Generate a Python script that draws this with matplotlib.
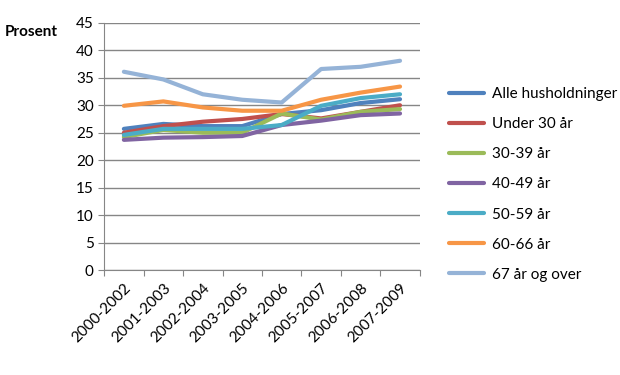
import numpy as np
import matplotlib.pyplot as plt

plt.rcParams['font.family'] = ['Lato', 'DejaVu Sans']

periods = ['2000-2002', '2001-2003', '2002-2004', '2003-2005',
           '2004-2006', '2005-2007', '2006-2008', '2007-2009']

alle = [25.7, 26.6, 26.2, 26.2, 28.4, 29.1, 30.4, 31.1]
under30 = [25.0, 26.2, 27.0, 27.5, 28.4, 27.6, 28.8, 30.0]
aar30_39 = [24.2, 25.5, 25.0, 25.0, 28.5, 27.4, 28.8, 29.3]
aar40_49 = [23.7, 24.1, 24.2, 24.4, 26.4, 27.2, 28.2, 28.5]
aar50_59 = [24.6, 25.7, 25.7, 25.7, 26.4, 29.9, 31.3, 32.0]
aar60_66 = [29.9, 30.7, 29.6, 29.0, 29.0, 31.0, 32.3, 33.4]
aar67 = [36.1, 34.7, 32.0, 31.0, 30.5, 36.6, 37.0, 38.1]

labels = ['Alle husholdninger', 'Under 30 år', '30-39 år', '40-49 år',
          '50-59 år', '60-66 år', '67 år og over']
colors = ['#4F81BD', '#C0504D', '#9BBB59', '#8064A2', '#4BACC6', '#F79646', '#95B3D7']
series = [alle, under30, aar30_39, aar40_49, aar50_59, aar60_66, aar67]

fig = plt.figure(figsize=(6.2, 3.75), dpi=100)
ax = fig.add_axes([0.168, 0.28, 0.509, 0.659])

x = np.arange(len(periods))
for vals, lab, col in zip(series, labels, colors):
    ax.plot(x, vals, color=col, lw=3, label=lab, solid_capstyle='round')

ax.set_xlim(-0.5, len(periods) - 0.5)
ax.set_ylim(0, 45)
ax.set_yticks(range(0, 46, 5))
ax.yaxis.grid(True, color='#868686', lw=1)
ax.set_axisbelow(True)
ax.set_xticks(np.arange(-0.5, len(periods), 1))
ax.set_xticklabels([])
ax.set_xticks(x, minor=True)
ax.set_xticklabels(periods, minor=True, rotation=45, ha='right', va='top',
                   rotation_mode='anchor', fontsize=11)
ax.tick_params(axis='x', which='minor', length=0, pad=8)
ax.tick_params(axis='x', which='major', length=4, color='#868686')
ax.tick_params(axis='y', length=4, color='#868686', labelsize=11)
for s in ['top', 'right']:
    ax.spines[s].set_visible(False)
for s in ['left', 'bottom']:
    ax.spines[s].set_color('#868686')

fig.text(0.008, 0.905, 'Prosent', fontsize=11, fontweight='bold')

ax.legend(loc='center left', bbox_to_anchor=(1.05, 0.346), frameon=False,
          fontsize=11, handlelength=2.3, labelspacing=1.05, handletextpad=0.5)

fig.savefig('out.png', dpi=100)
